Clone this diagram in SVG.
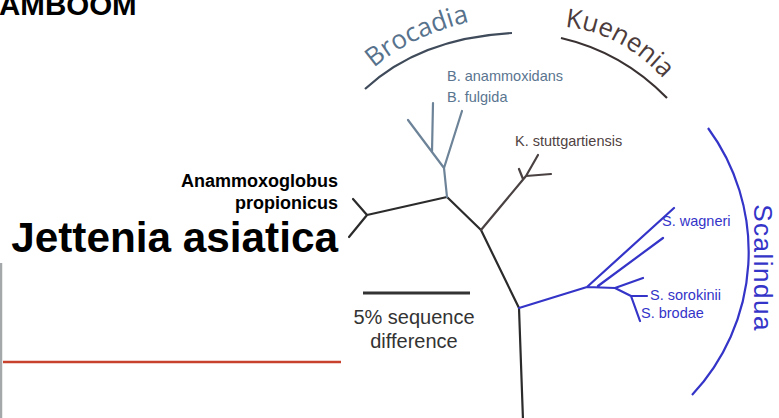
<svg xmlns="http://www.w3.org/2000/svg" width="779" height="418" viewBox="0 0 779 418">
<style>
.bold{font-family:"Liberation Sans",Arial,sans-serif;font-weight:bold;fill:#000}
.lbl{font-family:"Liberation Sans",Arial,sans-serif;font-size:14.5px}
.clade{font-family:"Open Sans","Liberation Sans",sans-serif;font-size:26px;font-weight:500}
.br{fill:none;stroke-width:2.2;stroke-linecap:round;stroke-linejoin:round}
.main{stroke:#2b2b2b}
.broc{stroke:#6d8398}
.kuen{stroke:#4a4242}
.scal{stroke:#3434c8}
</style>
<defs>
<path id="pBroc" d="M374,68 Q420,28 500,16"/>
<path id="pKuen" d="M565,27 Q624,32 670,86"/>
</defs>
<rect width="779" height="418" fill="#fff"/>
<g id="slide">
<text class="bold" x="-1" y="15" font-size="29.5">AMBOOM</text>
<line x1="1" y1="263" x2="1" y2="418" stroke="#a5a8ab" stroke-width="2.5"/>
<line x1="3" y1="362" x2="341" y2="362" stroke="#c8412d" stroke-width="2.5"/>
</g>
<g id="node-anammoxoglobus">
<text class="bold" x="338" y="187" font-size="18" text-anchor="end">Anammoxoglobus</text>
<text class="bold" x="338" y="209" font-size="18" text-anchor="end">propionicus</text>
</g>
<g id="node-jettenia">
<text class="bold" x="338" y="252" font-size="42.3" text-anchor="end">Jettenia asiatica</text>
</g>
<g id="connectors">
<path class="br main" d="M447,197 L367,215 M367,215 L353,199 M367,215 L349,237"/>
<path class="br main" d="M447,197 L481,230 L519,308 L523,420"/>
<path class="br broc" d="M447,197 L444,168 L408,120 M432,152 L433,103 M444,168 L462,111"/>
<path class="br kuen" d="M481,230 L526,176 L538,155 M526,176 L551,174 M523,179 L519,169"/>
<path class="br scal" d="M519,308 L587,287 L615,288 L631,296 L640,321 M587,287 L674,208 M598,286 L663,238 M615,288 L643,278 M631,296 L647,296"/>
</g>
<g id="node-brocadia">
<path d="M365,89 Q420,38 512,33" fill="none" stroke="#3f4b5a" stroke-width="2.2"/>
<text class="clade" font-size="27" fill="#57728c"><textPath href="#pBroc">Brocadia</textPath></text>
<text class="lbl" x="447" y="81" fill="#5a7590">B. anammoxidans</text>
<text class="lbl" x="447" y="102" fill="#5a7590">B. fulgida</text>
</g>
<g id="node-kuenenia">
<path d="M561,38 Q622,52 667,98" fill="none" stroke="#3a3232" stroke-width="2.2"/>
<text class="clade" fill="#4d3c3c"><textPath href="#pKuen">Kuenenia</textPath></text>
<text class="lbl" x="515" y="146" fill="#4f4242">K. stuttgartiensis</text>
</g>
<g id="node-scalindua">
<path d="M708,128 A209,209 0 0 1 692,395" fill="none" stroke="#3434c8" stroke-width="2.2"/>
<text font-family="Liberation Sans,Arial,sans-serif" font-size="26" fill="#3434c8" letter-spacing="1.5" text-anchor="middle" transform="translate(754,268) rotate(90)">Scalindua</text>
<text class="lbl" x="662" y="226" fill="#3434c8">S. wagneri</text>
<text class="lbl" x="650" y="300" fill="#3434c8">S. sorokinii</text>
<text class="lbl" x="641" y="318" fill="#3434c8">S. brodae</text>
</g>
<g id="scale-bar">
<line x1="363" y1="293" x2="470" y2="293" stroke="#333" stroke-width="3"/>
<text x="414" y="324" font-family="Liberation Sans,Arial,sans-serif" font-size="20" fill="#333" text-anchor="middle">5% sequence</text>
<text x="414" y="348" font-family="Liberation Sans,Arial,sans-serif" font-size="20" fill="#333" text-anchor="middle">difference</text>
</g>
</svg>
